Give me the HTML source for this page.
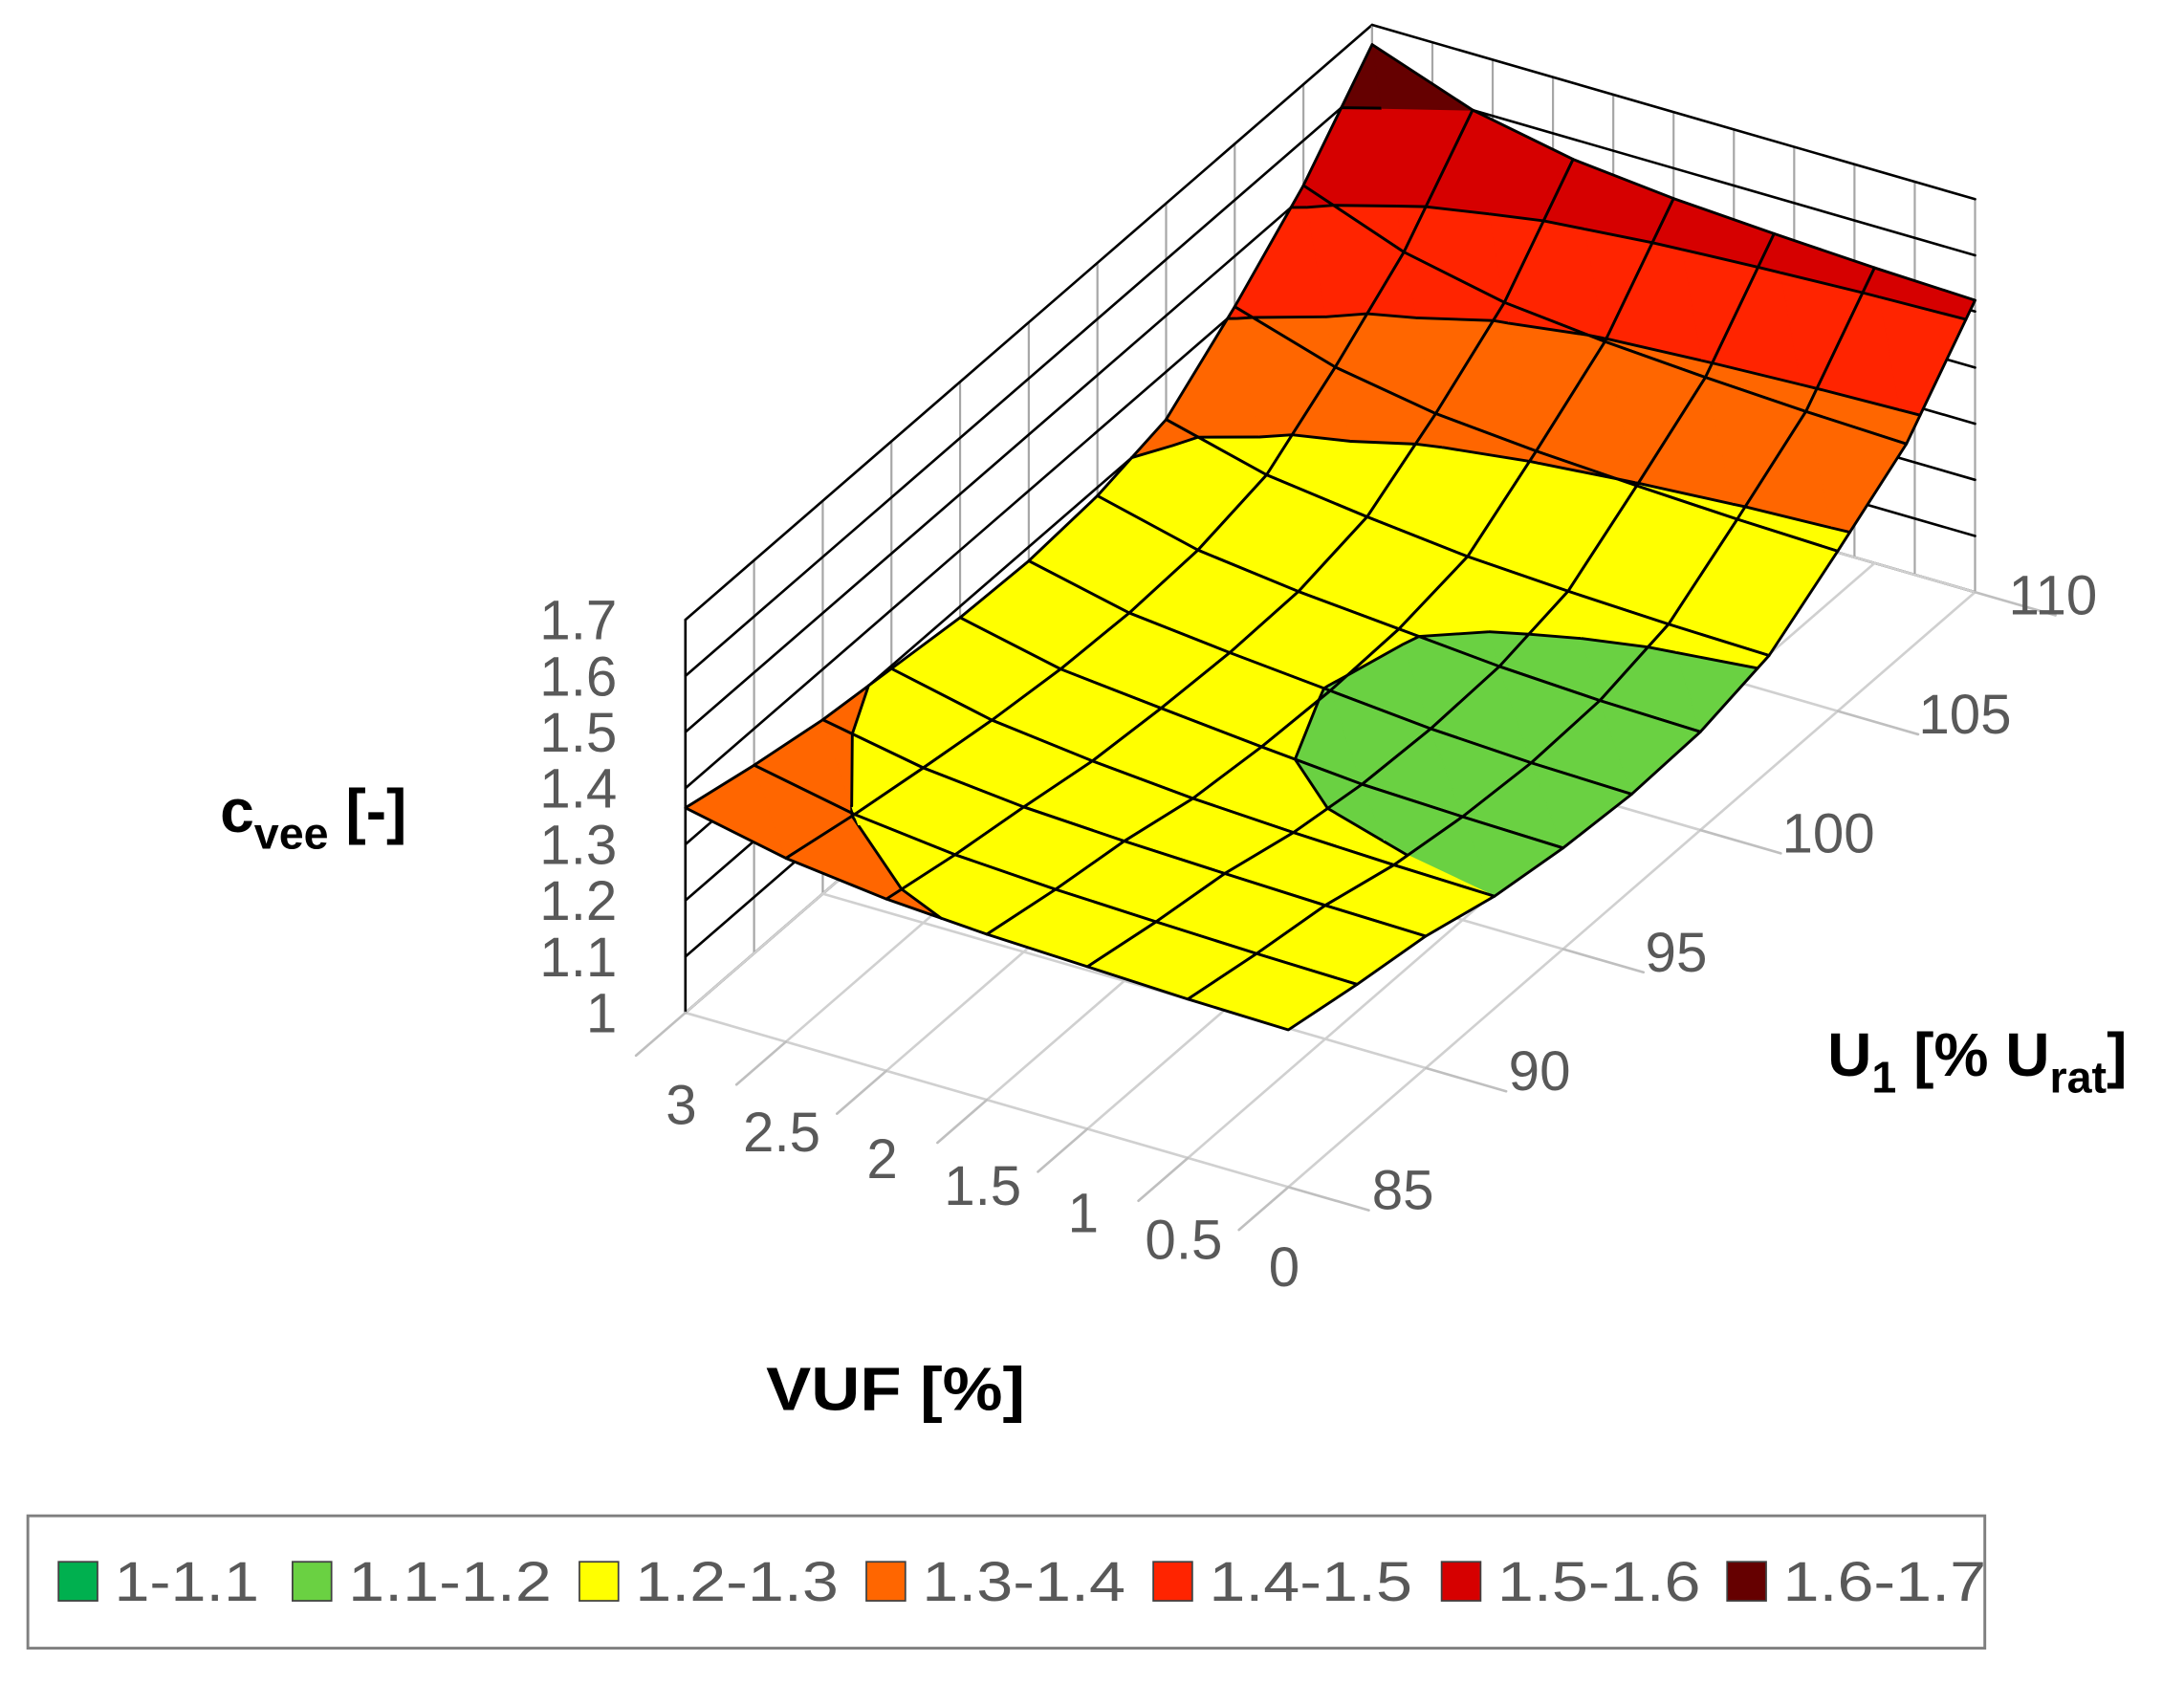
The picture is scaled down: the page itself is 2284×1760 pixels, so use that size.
<!DOCTYPE html>
<html><head><meta charset="utf-8"><style>html,body{margin:0;padding:0;background:#fff}svg{display:block}</style></head>
<body>
<svg id="chart" width="2284" height="1760" viewBox="0 0 1568 1208" preserveAspectRatio="none" xmlns="http://www.w3.org/2000/svg" font-family="'Liberation Sans', sans-serif">
<g id="walls"></g>
<g id="surface"></g>
<g id="axes"></g>
<text x="158" y="597" font-size="44" font-weight="bold">c<tspan font-size="32" dy="12">vee</tspan><tspan dy="-12"> [-]</tspan></text>
<text x="550" y="1012" font-size="44" font-weight="bold" textLength="186" lengthAdjust="spacingAndGlyphs">VUF [%]</text>
<text x="1312" y="772" font-size="44" font-weight="bold">U<tspan font-size="32" dy="12">1</tspan><tspan dy="-12"> [% U</tspan><tspan font-size="32" dy="12">rat</tspan><tspan dy="-12">]</tspan></text>
<rect x="20" y="1088" width="1405" height="95" fill="#fff" stroke="#7f7f7f" stroke-width="2"/>
<g id="legend"></g>
</svg>
<script>
const vufVals = [0, 0.5, 1, 1.5, 2, 2.5, 3];
const uVals = [85, 87.5, 90, 92.5, 95, 97.5, 100, 102.5, 105, 107.5, 110];
const zVUF0   = [1.28, 1.255, 1.235, 1.20, 1.18, 1.17, 1.175, 1.205, 1.285, 1.37, 1.52];
const zVUF05  = [1.283, 1.258, 1.238, 1.204, 1.184, 1.174, 1.179, 1.209, 1.29, 1.376, 1.526];
const zVUF1   = [1.289, 1.263, 1.243, 1.21, 1.19, 1.183, 1.188, 1.216, 1.298, 1.385, 1.535];
const zVUF15  = [1.295, 1.269, 1.249, 1.219, 1.205, 1.199, 1.203, 1.226, 1.308, 1.397, 1.546];
const zVUF2   = [1.306, 1.279, 1.258, 1.234, 1.222, 1.215, 1.218, 1.245, 1.323, 1.415, 1.564];
const zVUF25  = [1.327, 1.299, 1.276, 1.255, 1.24, 1.234, 1.24, 1.268, 1.354, 1.453, 1.60];
const zVUF3   = [1.365, 1.335, 1.31, 1.295, 1.28, 1.275, 1.285, 1.315, 1.41, 1.52, 1.665];
const zTicks = ['1', '1.1', '1.2', '1.3', '1.4', '1.5', '1.6', '1.7'];
const vufTicks = ['0', '0.5', '1', '1.5', '2', '2.5', '3'];
const uTicks = ['85', '90', '95', '100', '105', '110'];
const bandLabels = ['1-1.1', '1.1-1.2', '1.2-1.3', '1.3-1.4', '1.4-1.5', '1.5-1.6', '1.6-1.7'];
const bandColors = ['#00b04f', '#6ad142', '#ffff00', '#ff6600', '#ff2400', '#d60000', '#650000'];

const Z = [zVUF0, zVUF05, zVUF1, zVUF15, zVUF2, zVUF25, zVUF3];
const NS = 'http://www.w3.org/2000/svg';
function X(v,u,z){return 925 - 144.3*v + 19.72*(u-85);}
function Y(v,u,z){return 852 - 41.7*v - 17.08*(u-85) - 402.9*(z-1);}
function mk(tag, attrs, parent){const e=document.createElementNS(NS,tag);for(const k in attrs)e.setAttribute(k,attrs[k]);parent.appendChild(e);return e;}
function line(p,a,b,stroke,w,name){const e=mk('line',{x1:X(...a),y1:Y(...a),x2:X(...b),y2:Y(...b),stroke:stroke,'stroke-width':w,'stroke-linecap':'round'},p);


return e;}

const walls=document.getElementById('walls');
const zMin=1,zMax=1.7;
for(let i=0;i<=10;i++){const u=85+2.5*i;line(walls,[3,u,zMin],[3,u,zMax],'#a6a6a6',1.5,'left-wall-gridline');}
for(let k=0;k<zTicks.length;k++){const z=+zTicks[k];line(walls,[3,85,z],[3,110,z],'#000',1.8,'left-wall-z-gridline');}
for(let i=0;i<=10;i++){const v=0.3*i;line(walls,[v,110,zMin],[v,110,zMax],'#a6a6a6',1.5,'back-wall-gridline');}
for(let k=0;k<zTicks.length;k++){const z=+zTicks[k];line(walls,[0,110,z],[3,110,z],'#000',1.8,'back-wall-z-gridline');}
for(let i=0;i<vufVals.length;i++){line(walls,[vufVals[i],85,1],[vufVals[i],110,1],'#d0d0d0',1.8,'floor-gridline');}
for(let i=0;i<uTicks.length;i++){const u=+uTicks[i];line(walls,[0,u,1],[3,u,1],'#d0d0d0',1.8,'floor-gridline');}
line(walls,[3,85,1],[3,85,1.7],'#000',1.8,'z-axis-line');

const surf=document.getElementById('surface');
const levels=[1,1.1,1.2,1.3,1.4,1.5,1.6,1.7];
function clip(poly,lvl,above){const out=[];for(let i=0;i<poly.length;i++){const a=poly[i],b=poly[(i+1)%poly.length];
const ia=above?a[2]>=lvl:a[2]<=lvl, ib=above?b[2]>=lvl:b[2]<=lvl;
if(ia)out.push(a);
if(ia!==ib){const t=(lvl-a[2])/(b[2]-a[2]);out.push([a[0]+t*(b[0]-a[0]),a[1]+t*(b[1]-a[1]),lvl]);}}
return out;}
function ptsStr(poly){return poly.map(p=>X(...p).toFixed(2)+','+Y(...p).toFixed(2)).join(' ');}
const cells=[];
for(let i=0;i<vufVals.length-1;i++)for(let j=0;j<uVals.length-1;j++)cells.push([i,j]);
cells.sort((a,b)=>(b[1]-a[1])||(b[0]-a[0]));
for(const [i,j] of cells){
 const P=(ii,jj)=>[vufVals[ii],uVals[jj],Z[ii][jj]];
 const tris=[[P(i,j),P(i+1,j),P(i+1,j+1)],[P(i,j),P(i+1,j+1),P(i,j+1)]];
 const g=mk('g',{},surf);
 
 
 for(const tri of tris){
  for(let b=0;b<bandColors.length;b++){
   let p=clip(tri,levels[b],true); if(p.length<3)continue;
   p=clip(p,levels[b+1],false); if(p.length<3)continue;
   const e=mk('polygon',{points:ptsStr(p),fill:bandColors[b],stroke:bandColors[b],'stroke-width':0.8},g);
   
   
  }
  for(let b=1;b<levels.length-1;b++){const L=levels[b];const seg=[];
   for(let k=0;k<3;k++){const a=tri[k],c=tri[(k+1)%3];if((a[2]-L)*(c[2]-L)<0){const t=(L-a[2])/(c[2]-a[2]);seg.push([a[0]+t*(c[0]-a[0]),a[1]+t*(c[1]-a[1]),L]);}}
   if(seg.length===2)line(g,seg[0],seg[1],'#000',2,'contour-line');}
 }
 const q=mk('polygon',{points:ptsStr([P(i,j),P(i+1,j),P(i+1,j+1),P(i,j+1)]),fill:'none',stroke:'#000','stroke-width':2,'stroke-linejoin':'round'},g);
 
 
}

const axes=document.getElementById('axes');
for(let k=0;k<zTicks.length;k++){const z=+zTicks[k];
 const t=mk('text',{x:443,y:Y(3,85,z)+14,'font-size':40,fill:'#595959','text-anchor':'end'},axes);t.textContent=zTicks[k];
 
 }
for(let k=0;k<vufTicks.length;k++){const v=+vufTicks[k];
 line(axes,[v,85,1],[v,83.2,1],'#bfbfbf',1.8,'x-tick');
 const t=mk('text',{x:X(v,85,1)-3,y:Y(v,85,1)+ 80 - (3-v)*3,'font-size':40,fill:'#595959','text-anchor':'middle'},axes);t.textContent=vufTicks[k];
 
 }
for(let k=0;k<uTicks.length;k++){const u=+uTicks[k];
 line(axes,[0,u,1],[-0.4,u,1],'#bfbfbf',1.8,'y-tick');
 const off = (k===uTicks.length-1) ? 24 : 60-(u-85)*0.1;
 const t=mk('text',{x:X(0,u,1)+off,y:Y(0,u,1)+16,'font-size':40,fill:'#595959','text-anchor':'start'},axes);t.textContent=uTicks[k];
 
 }

const leg=document.getElementById('legend');
const legX=[42,210,416,622,828,1035,1240];
for(let b=0;b<bandLabels.length;b++){
 const r=mk('rect',{x:legX[b],y:1121,width:28,height:28,fill:bandColors[b],stroke:'#404040','stroke-width':1.2},leg);
 
 
 const t=mk('text',{x:legX[b]+40,y:1149,'font-size':40,fill:'#595959',textLength:bandLabels[b].length>5?146:104,lengthAdjust:'spacingAndGlyphs'},leg);t.textContent=bandLabels[b];
 
 
}
</script>
</body></html>
